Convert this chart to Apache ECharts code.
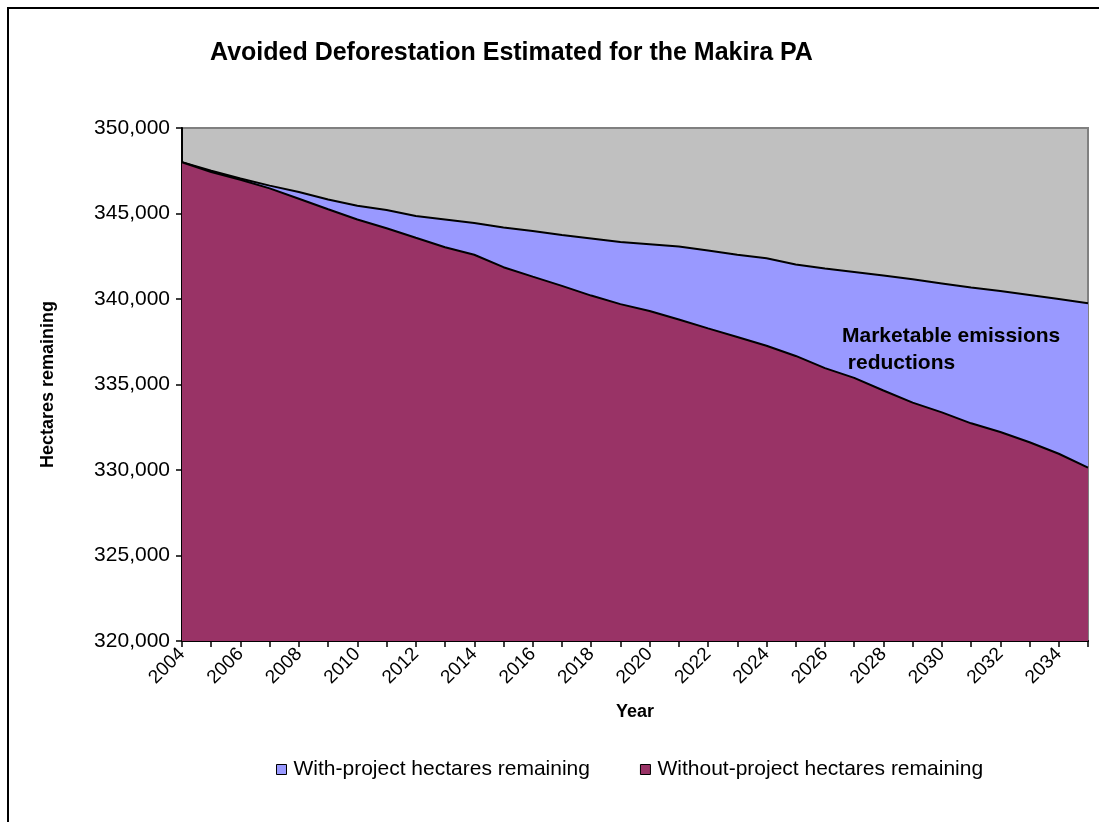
<!DOCTYPE html>
<html>
<head>
<meta charset="utf-8">
<title>Avoided Deforestation Estimated for the Makira PA</title>
<script src="https://cdn.jsdelivr.net/npm/echarts@6/dist/echarts.min.js"></script>
<style>
  html, body { margin: 0; padding: 0; background: #ffffff; }
  #chart { width: 1099px; height: 822px; }
</style>
</head>
<body>
<div id="chart"></div>
<script>
// Years on the horizontal axis (labels shown every other year)
const years = [
  '2004','2005','2006','2007','2008','2009','2010','2011','2012','2013',
  '2014','2015','2016','2017','2018','2019','2020','2021','2022','2023',
  '2024','2025','2026','2027','2028','2029','2030','2031','2032','2033',
  '2034','2035'
];

// Forest area remaining (hectares) with the protected-area project
const withProject = [
  348000, 347500, 347050, 346630, 346260, 345820, 345450, 345210, 344850, 344650,
  344440, 344180, 343980, 343740, 343540, 343330, 343200, 343070, 342830, 342590,
  342380, 342020, 341780, 341580, 341370, 341150, 340910, 340670, 340470, 340240,
  340000, 339750
];

// Forest area remaining (hectares) without the project
const withoutProject = [
  348000, 347430, 346970, 346470, 345860, 345250, 344650, 344140, 343580, 343030,
  342590, 341860, 341310, 340770, 340200, 339700, 339300, 338800, 338280, 337780,
  337270, 336670, 335960, 335390, 334650, 333940, 333370, 332730, 332220, 331620,
  330950, 330140
];

const seriesNames = ['With-project hectares remaining', 'Without-project hectares remaining'];
const seriesColors = ['#9999FF', '#993366'];

const FONT = '"Liberation Sans", Arial, sans-serif';

const chart = echarts.init(document.getElementById('chart'), null, { renderer: 'canvas' });

chart.setOption({
  animation: false,
  backgroundColor: '#ffffff',
  textStyle: { fontFamily: FONT, color: '#000' },
  title: {
    text: 'Avoided Deforestation Estimated for the Makira PA',
    left: 205,
    top: 36,
    textStyle: { fontFamily: FONT, fontSize: 25, fontWeight: 'bold', color: '#000' }
  },
  grid: {
    left: 182,
    right: 11,
    top: 128,
    bottom: 181,
    show: true,
    backgroundColor: '#C0C0C0',
    borderColor: '#808080',
    borderWidth: 2
  },
  legend: {
    data: seriesNames,
    left: 271,
    top: 754,
    itemWidth: 10,
    itemHeight: 10,
    itemGap: 50,
    icon: 'rect',
    itemStyle: { borderColor: '#000', borderWidth: 1 },
    textStyle: { fontFamily: FONT, fontSize: 21, color: '#000', padding: [0, 0, 0, 2] }
  },
  xAxis: {
    type: 'category',
    data: years,
    boundaryGap: false,
    name: 'Year',
    nameLocation: 'middle',
    nameGap: 62,
    nameTextStyle: { fontFamily: FONT, fontSize: 18, fontWeight: 'bold', color: '#000' },
    axisLine: { lineStyle: { color: '#000', width: 2 } },
    axisTick: { show: true, interval: 0, length: 6, lineStyle: { color: '#000', width: 1.5 } },
    axisLabel: {
      interval: 1,
      rotate: 45,
      margin: 10,
      fontFamily: FONT,
      fontSize: 19,
      color: '#000'
    },
    splitLine: { show: false }
  },
  yAxis: {
    type: 'value',
    min: 320000,
    max: 350000,
    interval: 5000,
    name: 'Hectares remaining',
    nameLocation: 'middle',
    nameGap: 125,
    nameTextStyle: { fontFamily: FONT, fontSize: 18, fontWeight: 'bold', color: '#000' },
    axisLine: { show: true, lineStyle: { color: '#000', width: 2 } },
    axisTick: { show: true, length: 6, lineStyle: { color: '#000', width: 1.5 } },
    axisLabel: {
      margin: 12,
      fontFamily: FONT,
      fontSize: 21,
      color: '#000',
      formatter: function (v) { return v.toLocaleString('en-US'); }
    },
    splitLine: { show: false }
  },
  series: [
    {
      name: seriesNames[0],
      type: 'line',
      data: withProject,
      showSymbol: false,
      symbol: 'none',
      itemStyle: { color: seriesColors[0] },
      lineStyle: { color: '#000', width: 2 },
      areaStyle: { color: seriesColors[0], opacity: 1, origin: 'start' },
      z: 2
    },
    {
      name: seriesNames[1],
      type: 'line',
      data: withoutProject,
      showSymbol: false,
      symbol: 'none',
      itemStyle: { color: seriesColors[1] },
      lineStyle: { color: '#000', width: 2 },
      areaStyle: { color: seriesColors[1], opacity: 1, origin: 'start' },
      z: 3
    }
  ],
  graphic: [
    {
      type: 'rect',
      silent: true,
      shape: { x: 8, y: 8, width: 1200, height: 900 },
      style: { fill: 'none', stroke: '#000', lineWidth: 2 },
      z: 100
    },
    {
      type: 'text',
      silent: true,
      left: 842,
      top: 323,
      style: {
        text: 'Marketable emissions\n reductions',
        font: 'bold 21px ' + FONT,
        fill: '#000',
        lineHeight: 27
      },
      z: 100
    }
  ]
});
</script>
</body>
</html>
